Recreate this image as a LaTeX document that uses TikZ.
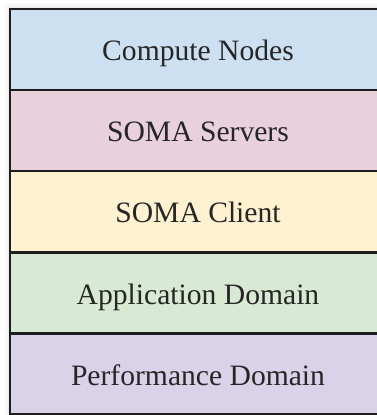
\documentclass[tikz,border=0pt]{standalone}
\usepackage{fontspec}
\setmainfont{Liberation Serif}
\definecolor{cnblue}{RGB}{205,224,241}
\definecolor{srvpink}{RGB}{233,208,221}
\definecolor{cliyellow}{RGB}{255,242,208}
\definecolor{appgreen}{RGB}{216,233,212}
\definecolor{perfpurple}{RGB}{218,210,232}
\definecolor{edge}{RGB}{30,30,30}
\tikzset{
  layer/.style={draw=edge, line width=2.4pt, minimum width=376pt, minimum height=81pt,
    inner sep=0pt, outer sep=0pt, anchor=north west,
    text height=22pt, text depth=0pt,
    font=\fontsize{29.6}{34}\selectfont, text=black!85},
}
\begin{document}
\begin{tikzpicture}[x=1pt,y=-1pt]
  \useasboundingbox (0,0) rectangle (377,415);
  % faint shadow along the left and top edges
  \foreach \o/\c in {6/2,4/4,2/7}{
    \fill[black!\c] (10-\o,9-\o) rectangle (400,420);
  }
  \node[layer, fill=cnblue]     (cn)   at (10,9)     {Compute Nodes};
  \node[layer, fill=srvpink]    (srv)  at (10,90)    {SOMA Servers};
  \node[layer, fill=cliyellow]  (cli)  at (10,171)   {SOMA Client};
  \node[layer, fill=appgreen]   (app)  at (10,252.5) {Application Domain};
  \node[layer, fill=perfpurple] (perf) at (10,333.5) {Performance Domain};
\end{tikzpicture}
\end{document}
